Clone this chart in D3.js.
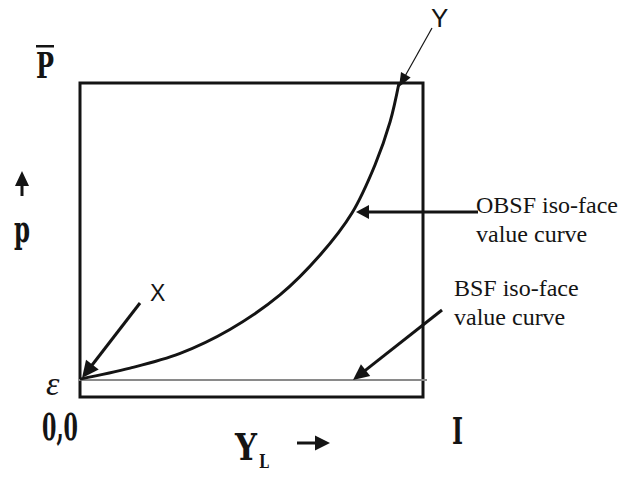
<!DOCTYPE html>
<html>
<head>
<meta charset="utf-8">
<script src="https://cdn.jsdelivr.net/npm/d3@7"></script>
<style>
  html, body { margin: 0; padding: 0; background: #fff; }
  svg { display: block; }
</style>
</head>
<body>
<svg id="chart" width="638" height="477"></svg>
<script>
// Share of low-type output Y_L (0 .. I) and the price p along each iso-face value curve
const yL = [0, 0.146, 0.292, 0.437, 0.583, 0.700, 0.793, 0.860, 0.904, 0.930];
const obsfP = [0.057, 0.092, 0.139, 0.215, 0.325, 0.452, 0.586, 0.739, 0.876, 1.0];
// BSF curve is flat at the floor price epsilon
const epsilon = 0.054;
const bsfL = [0, 1];

const svg = d3.select("#chart");
const x = d3.scaleLinear().domain([0, 1]).range([80, 423]);
const y = d3.scaleLinear().domain([0, 1]).range([397, 83]);

const ink = "#141414";
const boldFont = "'DejaVu Serif', serif";
const serif = "'Liberation Serif', 'Times New Roman', serif";
const sans = "'Liberation Sans', Arial, sans-serif";

// Frame
svg.append("rect")
  .attr("x", x(0)).attr("y", y(1))
  .attr("width", x(1) - x(0)).attr("height", y(0) - y(1))
  .attr("fill", "none").attr("stroke", ink).attr("stroke-width", 3);

// BSF iso-face value curve (flat)
svg.append("line")
  .attr("x1", x(bsfL[0]) - 2).attr("x2", x(bsfL[1]) + 4)
  .attr("y1", y(epsilon)).attr("y2", y(epsilon))
  .attr("stroke", "#8a8a8a").attr("stroke-width", 2);

// OBSF iso-face value curve
const line = d3.line()
  .x((d, i) => x(yL[i]))
  .y(d => y(d))
  .curve(d3.curveCatmullRom.alpha(0.5));
svg.append("path")
  .attr("d", line(obsfP))
  .attr("fill", "none").attr("stroke", ink).attr("stroke-width", 3);

// Arrow helper: straight shaft ending in a filled triangular head at the tip
function arrow(x0, y0, x1, y1, opts) {
  const o = Object.assign({ width: 2.5, head: 15, half: 7 }, opts || {});
  const dx = x1 - x0, dy = y1 - y0, len = Math.hypot(dx, dy);
  const ux = dx / len, uy = dy / len;
  const bx = x1 - ux * o.head, by = y1 - uy * o.head;
  svg.append("line")
    .attr("x1", x0).attr("y1", y0).attr("x2", bx + ux * 2).attr("y2", by + uy * 2)
    .attr("stroke", ink).attr("stroke-width", o.width);
  svg.append("path")
    .attr("d", `M${x1},${y1}L${bx - uy * o.half},${by + ux * o.half}L${bx + uy * o.half},${by - ux * o.half}Z`)
    .attr("fill", ink);
}

// Point labels X and Y with their pointers
arrow(140, 303, x(yL[0]) + 2, y(obsfP[0]) - 1, { width: 3, head: 17, half: 8 });
arrow(432, 28, 399, 87, { width: 1.2, head: 14, half: 5.5 });
svg.append("text").attr("x", 150).attr("y", 301)
  .attr("font-family", sans).attr("font-size", 23).attr("fill", ink).text("X");
svg.append("text").attr("x", 431).attr("y", 27)
  .attr("font-family", sans).attr("font-size", 26).attr("fill", ink).text("Y");

// Curve callouts
arrow(478, 212, 356, 212, { width: 3, head: 13, half: 7 });
arrow(442, 310, 353, 380, { width: 3, head: 16, half: 7.5 });

function callout(tx, ty, lines) {
  const t = svg.append("text").attr("x", tx).attr("y", ty)
    .attr("font-family", serif).attr("font-size", 24).attr("fill", ink);
  lines.forEach((s, i) => t.append("tspan").attr("x", tx).attr("dy", i ? 29 : 0).text(s));
}
callout(476, 213, ["OBSF iso-face", "value curve"]);
callout(454, 296, ["BSF iso-face", "value curve"]);

// Heavy serif axis labels, squeezed horizontally to a fixed width
function heavy(tx, ty, size, w, s) {
  const t = svg.append("text")
    .attr("font-family", boldFont).attr("font-weight", "bold")
    .attr("font-size", size).attr("fill", ink)
    .text(s);
  const natural = t.node().getComputedTextLength() || w;
  t.attr("transform", `translate(${tx},${ty}) scale(${w / natural},1)`);
  return t;
}

// Vertical axis: P-bar at the top, p with an upward arrow
heavy(36, 78, 36, 18, "P");
svg.append("rect").attr("x", 36).attr("y", 45).attr("width", 18).attr("height", 2.5).attr("fill", ink);
arrow(22, 196, 22, 171, { width: 3, head: 15, half: 7 });
heavy(14, 242, 38, 16, "p");

// Floor price and origin
svg.append("text").attr("x", 46).attr("y", 395)
  .attr("font-family", serif).attr("font-style", "italic")
  .attr("font-size", 34).attr("fill", ink).text("ε");
heavy(42, 440, 37, 36, "0,0");

// Horizontal axis: Y_L with a rightward arrow, I at the far end
heavy(235, 460, 38, 22, "Y");
heavy(259, 468, 19, 10, "L");
arrow(297, 443, 330, 443, { width: 3, head: 15, half: 7.5 });
heavy(452, 444, 38, 11, "I");
</script>
</body>
</html>
